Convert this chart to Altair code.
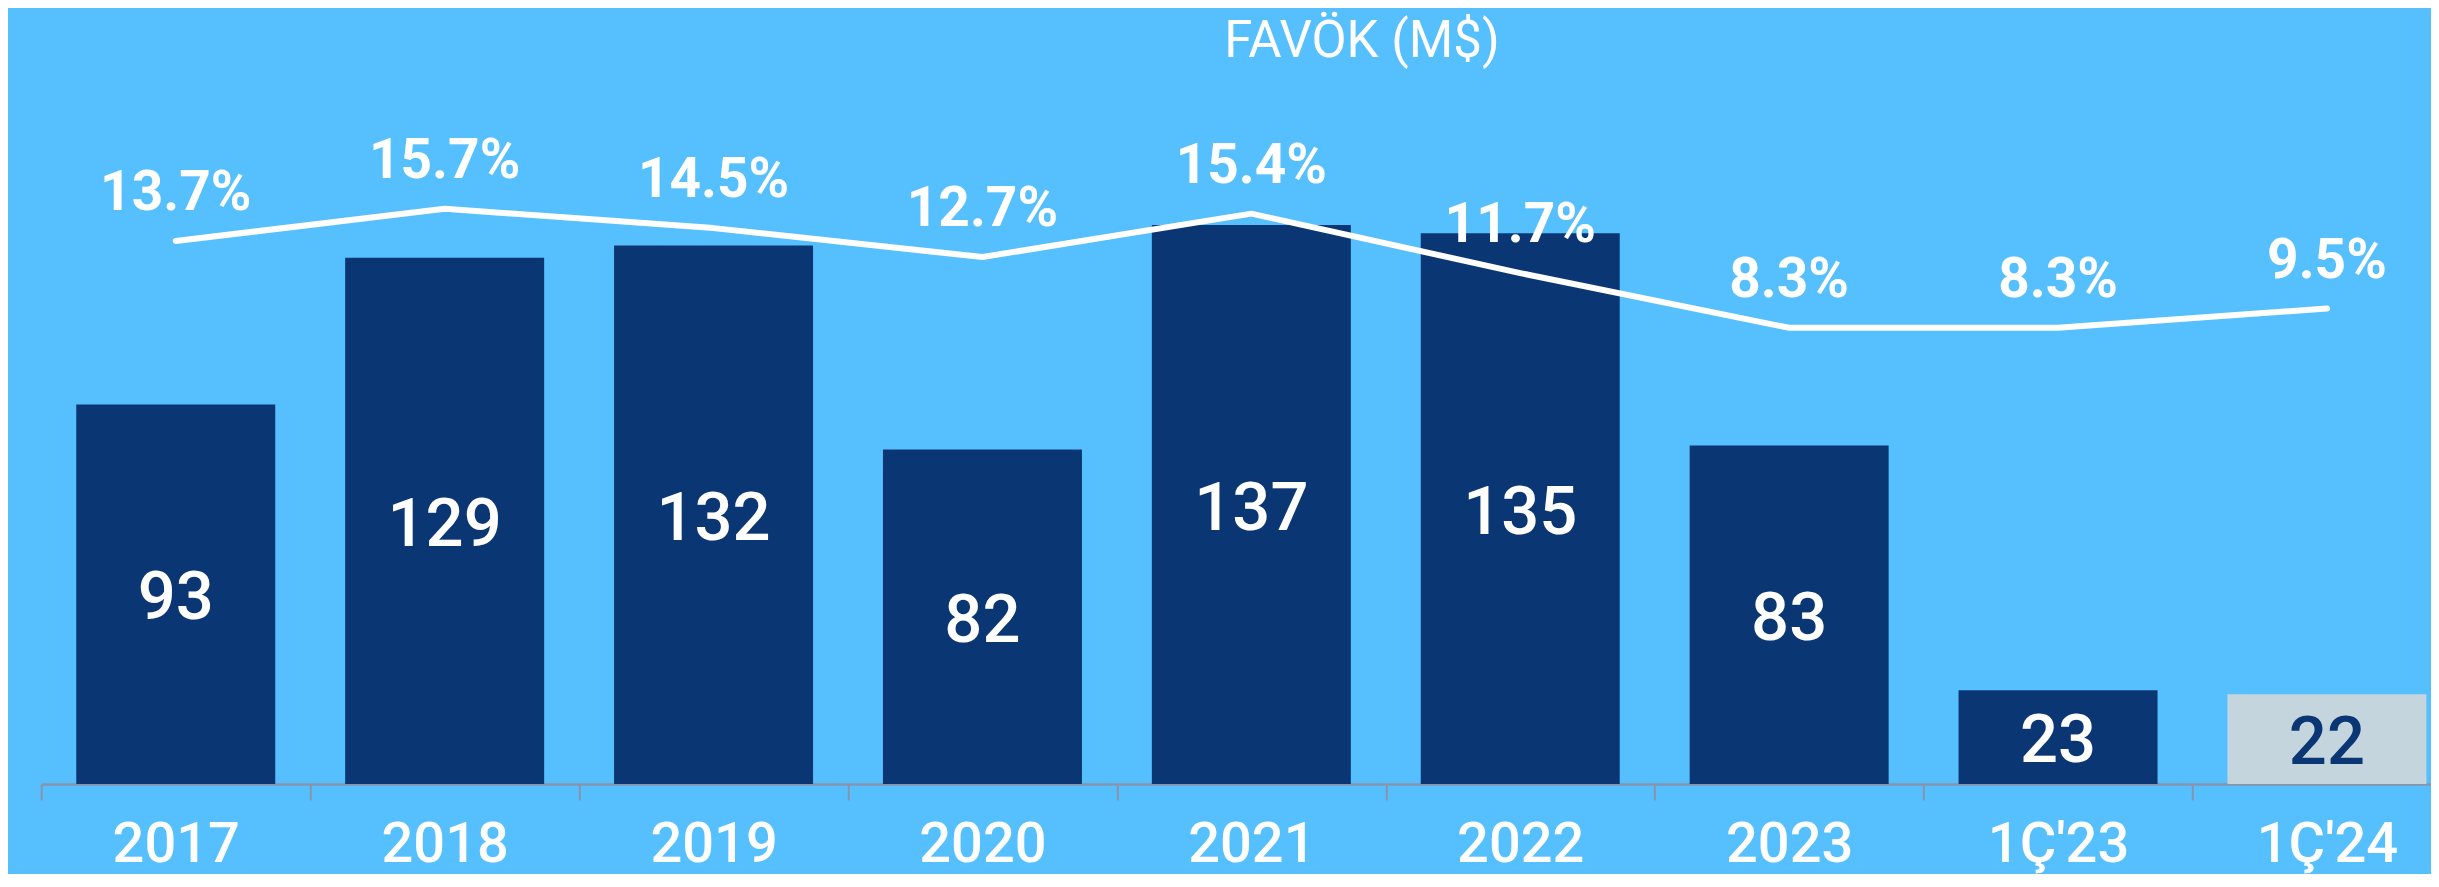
import altair as alt
import pandas as pd

periods = ["2017", "2018", "2019", "2020", "2021", "2022", "2023", "1Ç'23", "1Ç'24"]
ebitda = [93, 129, 132, 82, 137, 135, 83, 23, 22]
margin = [13.7, 15.7, 14.5, 12.7, 15.4, 11.7, 8.3, 8.3, 9.5]
title_text = ["FAVÖK (M$)"]

df = pd.DataFrame({"period": periods, "ebitda": ebitda, "margin": margin})
df_title = pd.DataFrame({"t": title_text})

BG = "#56BFFE"
NAVY = "#0B3674"
GREY = "#C4D5DE"
AXIS = "#8A93AB"
FONT = "Roboto"

x_enc = alt.X(
    "period:N",
    sort=periods,
    scale=alt.Scale(range=[0, 2420.1], paddingInner=0, paddingOuter=0),
    axis=alt.Axis(
        title=None,
        labelAngle=0,
        labelFont=FONT,
        labelFontSize=56,
        labelFontWeight=500,
        labelColor="white",
        labelPadding=61,
        labelBaseline="alphabetic",
        labelOverlap=False,
        domainColor=AXIS,
        domainWidth=2.3,
        tickColor=AXIS,
        tickWidth=2,
        tickSize=16,
        tickBand="extent",
        grid=False,
    ),
)

bar_dom = [0, 165.7]
line_dom = [-20.07, 21.97]

is_last = alt.datum.period == "1Ç'24"

bars = alt.Chart(df).mark_bar(width={"band": 0.74}).encode(
    x=x_enc,
    y=alt.Y("ebitda:Q", scale=alt.Scale(domain=bar_dom), axis=None),
    color=alt.condition(is_last, alt.value(GREY), alt.value(NAVY)),
)

bar_text = alt.Chart(df).transform_calculate(mid="datum.ebitda / 2").mark_text(
    font=FONT, fontSize=67, fontWeight=500, baseline="middle", align="center", dy=5
).encode(
    x=x_enc,
    y=alt.Y("mid:Q", scale=alt.Scale(domain=bar_dom), axis=None),
    text=alt.Text("ebitda:Q"),
    color=alt.condition(is_last, alt.value(NAVY), alt.value("white")),
)

line = alt.Chart(df).mark_line(
    color="white", strokeWidth=6, strokeCap="round", strokeJoin="round"
).encode(
    x=x_enc,
    y=alt.Y("margin:Q", scale=alt.Scale(domain=line_dom), axis=None),
)

line_text = alt.Chart(df).transform_calculate(
    lbl="format(datum.margin, '.1f') + '%'"
).mark_text(
    font=FONT, fontSize=55, fontWeight="bold", color="white",
    baseline="alphabetic", align="center", dy=-31
).encode(
    x=x_enc,
    y=alt.Y("margin:Q", scale=alt.Scale(domain=line_dom), axis=None),
    text="lbl:N",
)

title = alt.Chart(df_title).mark_text(
    font=FONT, fontSize=51, fontWeight="normal", color="white",
    baseline="alphabetic", align="center"
).encode(
    x=alt.value(1320.7),
    y=alt.value(-51.5),
    text="t:N",
)

chart = alt.layer(bars, bar_text, line, line_text, title).resolve_scale(
    y="independent"
).properties(
    width=2389.7,
    height=676,
    autosize=alt.AutoSizeParams(type="none"),
    padding={"left": 33.3, "top": 100, "right": 0, "bottom": 90},
).configure(
    background=BG,
).configure_view(stroke=None)

chart.save("out.html", embed_options={"renderer": "svg", "actions": False})
